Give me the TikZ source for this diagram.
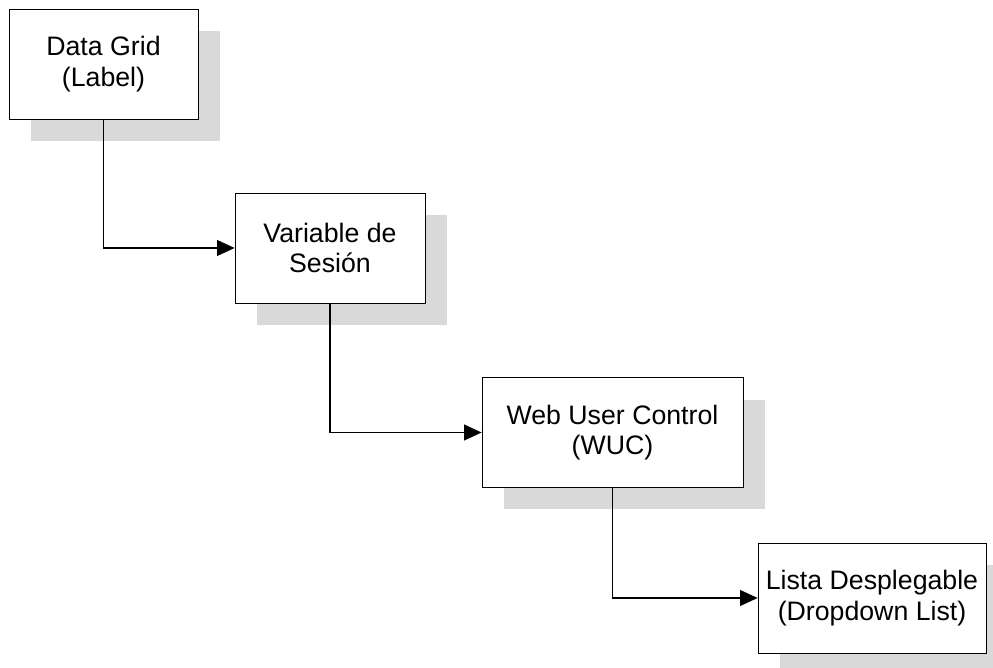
\documentclass[tikz,border=0pt]{standalone}
\usepackage{fontspec}
\setmainfont{Liberation Sans}
\usepackage{tikz}
\usetikzlibrary{arrows.meta, positioning, shadows}
\definecolor{Shade}{HTML}{D9D9D9}
\definecolor{Ink}  {HTML}{000000}

\begin{document}
\begin{tikzpicture}[x=0.02cm, y=-0.02cm,
    stagebox/.style={draw=Ink, fill=white, line width=0.45pt,
        minimum height=2.2cm, align=center, text=Ink,
        font=\fontsize{15.2}{17.5}\selectfont,
        general shadow={fill=Shade, draw=none,
            shadow xshift=0.44cm, shadow yshift=-0.44cm}},
    link/.style={draw=Ink, line width=0.9pt,
        -{Triangle[length=10pt, width=9pt]}}]
  \useasboundingbox (0,0) rectangle (993,668);
  % Boxes, stepping down to the right
  \node[stagebox, minimum width=3.78cm] (grid)   at (103.5, 64)  {Data Grid\\(Label)};
  \node[stagebox, minimum width=3.8cm]  (sesion) at (330, 248)   {Variable de\\Sesión};
  \node[stagebox, minimum width=5.22cm] (wuc)    at (612.5, 432.5) {Web User Control\\(WUC)};
  \node[stagebox, minimum width=4.56cm] (lista)  at (872, 598)   {Lista Desplegable\\(Dropdown List)};
  % Elbow connectors
  \draw[link] (grid.south)   |- (sesion.west);
  \draw[link] (sesion.south) |- (wuc.west);
  \draw[link] (wuc.south)    |- (lista.west);
\end{tikzpicture}
\end{document}
